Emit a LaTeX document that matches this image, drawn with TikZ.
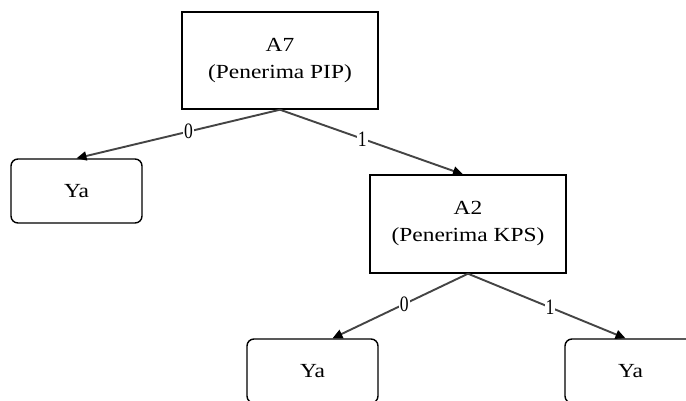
\documentclass[tikz,border=0pt]{standalone}
\usepackage{fontspec}
\setmainfont{Liberation Serif}
\usepackage{graphicx}
\usetikzlibrary{arrows.meta,calc}
\newcommand{\wtxt}[1]{\scalebox{1.17}[1]{#1}}
\newcommand{\ntxt}[1]{\scalebox{0.8}[1]{#1}}
\tikzset{
  sqbox/.style={draw=black, line width=1.4pt, minimum width=196pt, minimum height=97pt, align=center, inner sep=0pt, font=\fontsize{20}{27}\selectfont},
  leafbox/.style={draw=black, line width=1.4pt, rounded corners=7pt, minimum width=131pt, minimum height=64pt, inner sep=0pt, font=\fontsize{20}{27}\selectfont},
  edge/.style={draw={rgb,255:red,68;green,68;blue,68}, line width=1.9pt, -{Triangle[length=10pt,width=9pt,color=black]}},
  elabel/.style={fill=white, inner sep=1pt, font=\fontsize{22}{24}\selectfont}
}
\begin{document}
\begin{tikzpicture}[x=1pt,y=-1pt]
\useasboundingbox (0,0) rectangle (686,400);
\clip (0,0) rectangle (686,400);
\fill[white] (0,0) rectangle (686,400);
\node[sqbox] (A7) at (280,60.5) {\wtxt{A7}\\\wtxt{(Penerima PIP)}};
\node[leafbox] (Y1) at (76.5,191) {\wtxt{Ya}};
\node[sqbox, minimum height=98pt] (A2) at (468,224) {\wtxt{A2}\\\wtxt{(Penerima KPS)}};
\node[leafbox] (Y2) at (312.5,371) {\wtxt{Ya}};
\node[leafbox] (Y3) at (630.5,371) {\wtxt{Ya}};
\coordinate (t1) at (Y1.north);
\coordinate (t2) at ($(A2.north)+(-5,0)$);
\coordinate (t3) at ($(Y2.north)+(20,0)$);
\coordinate (t4) at ($(Y3.north)+(-5,0)$);
\draw[edge] (A7.south) -- node[elabel, pos=0.45] {\ntxt{0}} (t1);
\draw[edge] (A7.south) -- node[elabel, pos=0.45] {\ntxt{1}} (t2);
\draw[edge] (A2.south) -- node[elabel, pos=0.47] {\ntxt{0}} (t3);
\draw[edge] (A2.south) -- node[elabel, pos=0.52] {\ntxt{1}} (t4);
\end{tikzpicture}
\end{document}
